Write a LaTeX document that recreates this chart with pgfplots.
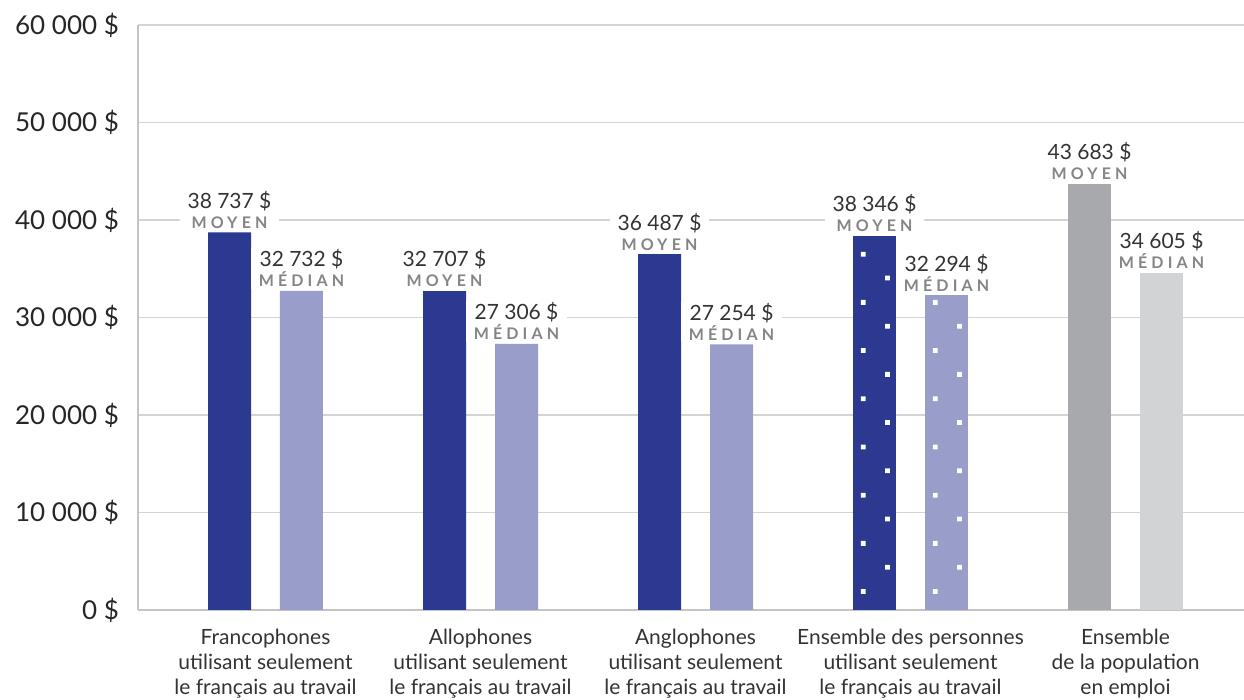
\documentclass[border=0pt]{standalone}
\usepackage{fontspec}
\setmainfont{Lato}
\newfontfamily\capsfont[LetterSpace=26]{Lato}
\usepackage{pgfplots}
\pgfplotsset{compat=1.18}
\usetikzlibrary{patterns}

\definecolor{darkblue}{HTML}{2B3990}
\definecolor{lightblue}{HTML}{989DC9}
\definecolor{greybar}{HTML}{A7A9AC}
\definecolor{lightgreybar}{HTML}{D1D3D4}
\definecolor{gridgray}{HTML}{D4D4D4}
\definecolor{axisgray}{HTML}{C4C4C4}
\definecolor{txt}{HTML}{333333}
\definecolor{capgray}{HTML}{858585}

% small white squares, staggered
\pgfdeclarepatternformonly{whitedots}{\pgfqpoint{-12pt}{0pt}}{\pgfqpoint{24pt}{24.1pt}}{\pgfqpoint{36pt}{24.1pt}}{%
  \pgfpathrectangle{\pgfqpoint{-1.6pt}{4.8pt}}{\pgfqpoint{2.4pt}{2.4pt}}%
  \pgfpathrectangle{\pgfqpoint{10.5pt}{17pt}}{\pgfqpoint{2.4pt}{2.4pt}}%
  \pgfusepath{fill}}

\newcommand\lab[1]{\pgfmathprintnumber{\pgfplotspointmeta}\ \$\\[-1pt]{\capsfont\bfseries\fontsize{8}{9}\selectfont\color{capgray}#1}}

\begin{document}
\begin{tikzpicture}
\useasboundingbox (0,0) rectangle (622pt,350pt);
\begin{axis}[
    at={(69pt,45pt)}, anchor=south west,
    width=553pt, height=292.5pt, scale only axis,
    xmin=-0.593, xmax=4.551,
    ymin=0, ymax=60000,
    scaled y ticks=false,
    axis x line*=bottom, axis y line*=left,
    x axis line style={axisgray, line width=1pt},
    y axis line style={axisgray, line width=0.75pt},
    ymajorgrids, grid style={gridgray, line width=0.75pt},
    major tick length=0pt,
    ytick={0,10000,...,60000},
    yticklabels={0~\$, 10~000~\$, 20~000~\$, 30~000~\$, 40~000~\$, 50~000~\$, 60~000~\$},
    yticklabel style={font=\fontsize{13}{15}\selectfont, text=black!85, xshift=-6pt},
    xtick={0,1,2,3,4},
    xticklabels={Francophones\\utilisant seulement\\le français au travail,
                 Allophones\\utilisant seulement\\le français au travail,
                 Anglophones\\utilisant seulement\\le français au travail,
                 Ensemble des personnes\\utilisant seulement\\le français au travail,
                 Ensemble\\de la population\\en emploi},
    xticklabel style={align=center, font=\fontsize{10.5}{12.5}\selectfont, text=txt, yshift=-6pt},
    /pgf/number format/.cd, fixed, precision=0, 1000 sep={\ }, assume math mode=true,
    /pgfplots/.cd,
    every node near coord/.append style={anchor=south, align=center, fill=white,
        inner xsep=4pt, inner ysep=1pt, yshift=0.8pt, text=txt,
        font=\fontsize{10.5}{11}\selectfont},
]
% moyen
\addplot[ybar, bar width=0.2, bar shift=-0.1674, fill=darkblue, draw=none,
    every node near coord/.append style={xshift=-18pt},
    nodes near coords={\lab{MOYEN}}] coordinates {(0,38737) (1,32707) (2,36487)};
% median
\addplot[ybar, bar width=0.2, bar shift=0.1674, fill=lightblue, draw=none,
    every node near coord/.append style={xshift=18pt},
    nodes near coords={\lab{MÉDIAN}}] coordinates {(0,32732) (1,27306) (2,27254)};
% ensemble des personnes (dotted)
\addplot[ybar, bar width=0.2, bar shift=-0.1674, fill=darkblue, draw=none,
    postaction={pattern=whitedots, pattern color=white},
    every node near coord/.append style={xshift=-18pt},
    nodes near coords={\lab{MOYEN}}] coordinates {(3,38346)};
\addplot[ybar, bar width=0.2, bar shift=0.1674, fill=lightblue, draw=none,
    postaction={pattern=whitedots, pattern color=white},
    every node near coord/.append style={xshift=18pt},
    nodes near coords={\lab{MÉDIAN}}] coordinates {(3,32294)};
% population en emploi
\addplot[ybar, bar width=0.2, bar shift=-0.1674, fill=greybar, draw=none,
    every node near coord/.append style={xshift=-18pt},
    nodes near coords={\lab{MOYEN}}] coordinates {(4,43683)};
\addplot[ybar, bar width=0.2, bar shift=0.1674, fill=lightgreybar, draw=none,
    every node near coord/.append style={xshift=18pt},
    nodes near coords={\lab{MÉDIAN}}] coordinates {(4,34605)};
\end{axis}
\end{tikzpicture}
\end{document}
